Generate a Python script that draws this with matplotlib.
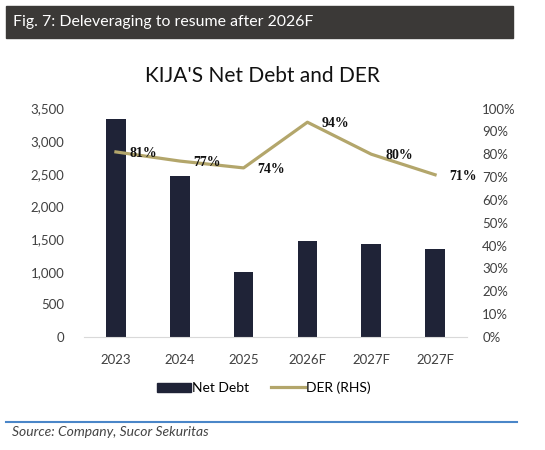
import matplotlib.pyplot as plt
from matplotlib.patches import Rectangle
from matplotlib.lines import Line2D
from matplotlib.ticker import FuncFormatter

years = ['2023', '2024', '2025', '2026F', '2027F', '2027F']
net_debt = [3340, 2470, 1000, 1465, 1420, 1345]
der = [81, 77, 74, 94, 80, 71]

bar_color = '#1f2337'
line_color = '#b3a66b'
W, H = 545, 450

plt.rcParams['font.family'] = ['Lato', 'DejaVu Sans']

fig = plt.figure(figsize=(W / 100, H / 100), dpi=100)

# header bar
fig.patches.append(Rectangle((6 / W, 1 - 38 / H), 507 / W, 32 / H,
                             transform=fig.transFigure, color='#3b3937', zorder=0))
fig.text(13 / W, 1 - 22 / H, 'Fig. 7: Deleveraging to resume after 2026F',
         color='white', fontsize=11.4, va='center', ha='left')

fig.text(262 / W, 1 - 76 / H, "KIJA'S Net Debt and DER", fontsize=15,
         ha='center', va='center', color='#111111')

ax = fig.add_axes([84 / W, (H - 337) / H, 383 / W, 228.5 / H])
idx = range(len(years))
ax.bar(idx, net_debt, 0.31, color=bar_color, label='Net Debt', zorder=2)
ax.set_xlim(-0.5, len(years) - 0.5)
ax.set_ylim(0, 3500)
ax.set_yticks(range(0, 3501, 500))
ax.yaxis.set_major_formatter(FuncFormatter(lambda v, p: f'{int(v):,}'))
ax.set_xticks(list(idx))
ax.set_xticklabels(years)
for s in ['top', 'left', 'right']:
    ax.spines[s].set_visible(False)
ax.spines['bottom'].set_color('#d9d9d9')
ax.tick_params(length=0, labelsize=9.5, colors='#404040')
ax.tick_params(axis='x', pad=12)
ax.tick_params(axis='y', pad=14)

ax2 = ax.twinx()
ax2.plot(idx, der, color=line_color, lw=2.3, zorder=3)
ax2.set_ylim(0, 100)
ax2.set_yticks(range(0, 101, 10))
ax2.yaxis.set_major_formatter(FuncFormatter(lambda v, p: f'{int(v)}%'))
for s in ['top', 'left', 'right', 'bottom']:
    ax2.spines[s].set_visible(False)
ax2.tick_params(length=0, labelsize=9.5, colors='#404040', pad=11)

for i, v in enumerate(der):
    ax2.annotate(f'{v}%', (i, v), xytext=(10, -1), textcoords='offset points',
                 ha='left', va='center', fontsize=10, fontweight='bold',
                 family='Liberation Serif', color='#111111')

handles = [Rectangle((0, 0), 1, 1, color=bar_color),
           Line2D([0], [0], color=line_color, lw=2.3)]
fig.legend(handles, ['Net Debt', 'DER (RHS)'], loc='center',
           bbox_to_anchor=(264 / W, 1 - 388 / H), ncol=2, frameon=False,
           fontsize=10, handlelength=2.4, handletextpad=0.1, columnspacing=1.6)

fig.add_artist(Line2D([6 / W, 517 / W], [1 - 422 / H, 1 - 422 / H],
                      transform=fig.transFigure, color='#4a86c8', lw=1.5))
fig.text(12 / W, 1 - 432 / H, 'Source: Company, Sucor Sekuritas', style='italic',
         fontsize=10, color='#444444', va='center', ha='left')

fig.savefig('out.png', dpi=100, facecolor='white')
